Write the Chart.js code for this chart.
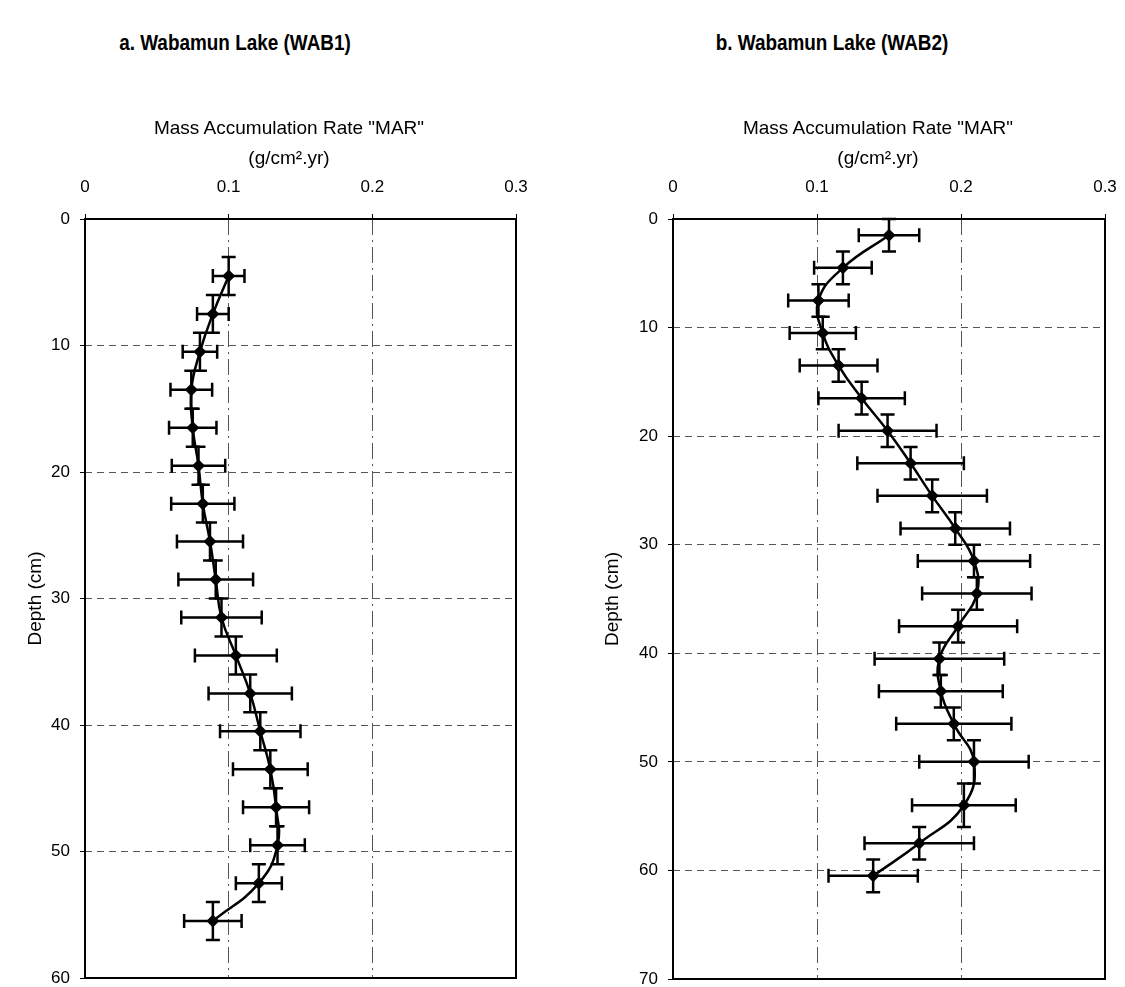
<!DOCTYPE html>
<html>
<head>
<meta charset="utf-8">
<script src="https://cdn.jsdelivr.net/npm/chart.js@4/dist/chart.umd.min.js"></script>
<style>
  body { margin: 0; background: #fff; width: 1125px; height: 987px; position: relative; overflow: hidden;
         font-family: Arial, "Liberation Sans", sans-serif; color: #000; }
  .panel-title { position: absolute; top: 30px; font-weight: bold; font-size: 22px; line-height: 26px; white-space: nowrap;
                 transform: translateX(-50%) scaleX(0.86); }
  .axis-title { position: absolute; top: 113px; font-size: 19px; line-height: 30px; white-space: nowrap;
                text-align: center; transform: translateX(-50%); }
  .chart-box { position: absolute; top: 0; }
</style>
</head>
<body>
<div class="panel-title" style="left:235px">a. Wabamun Lake (WAB1)</div>
<div class="panel-title" style="left:832px">b. Wabamun Lake (WAB2)</div>
<div class="chart-box" style="left:0px"><canvas id="chart-a" width="540" height="987"></canvas></div>
<div class="chart-box" style="left:590px"><canvas id="chart-b" width="535" height="987"></canvas></div>
<div class="axis-title" style="left:289px">Mass Accumulation Rate "MAR"<br>(g/cm².yr)</div>
<div class="axis-title" style="left:878px">Mass Accumulation Rate "MAR"<br>(g/cm².yr)</div>

<script>
// MAR axis ticks (shared)
const marTicks = [0, 0.1, 0.2, 0.3];
const marTickLabels = ['0', '0.1', '0.2', '0.3'];

// a. WAB1
const depthA = [4.5, 7.5, 10.5, 13.5, 16.5, 19.5, 22.5, 25.5, 28.5, 31.5, 34.5, 37.5, 40.5, 43.5, 46.5, 49.5, 52.5, 55.5];
const marA = [0.100, 0.089, 0.080, 0.074, 0.075, 0.079, 0.082, 0.087, 0.091, 0.095, 0.105, 0.115, 0.122, 0.129, 0.133, 0.134, 0.121, 0.089];
const marErrA = [0.011, 0.011, 0.012, 0.0145, 0.0165, 0.0186, 0.022, 0.023, 0.026, 0.028, 0.0285, 0.029, 0.028, 0.026, 0.023, 0.019, 0.016, 0.020];
const depthErrA = [1.5, 1.5, 1.5, 1.5, 1.5, 1.5, 1.5, 1.5, 1.5, 1.5, 1.5, 1.5, 1.5, 1.5, 1.5, 1.5, 1.5, 1.5];
const depthTicksA = [0, 10, 20, 30, 40, 50, 60];

// b. WAB2
const depthB = [1.5, 4.5, 7.5, 10.5, 13.5, 16.5, 19.5, 22.5, 25.5, 28.5, 31.5, 34.5, 37.5, 40.5, 43.5, 46.5, 50, 54, 57.5, 60.5];
const marB = [0.150, 0.118, 0.101, 0.104, 0.115, 0.131, 0.149, 0.165, 0.180, 0.196, 0.209, 0.211, 0.198, 0.185, 0.186, 0.195, 0.209, 0.202, 0.171, 0.139];
const marErrB = [0.021, 0.020, 0.021, 0.023, 0.027, 0.030, 0.034, 0.037, 0.038, 0.038, 0.039, 0.038, 0.041, 0.045, 0.043, 0.040, 0.038, 0.036, 0.038, 0.031];
const depthErrB = [1.5, 1.5, 1.5, 1.5, 1.5, 1.5, 1.5, 1.5, 1.5, 1.5, 1.5, 1.5, 1.5, 1.5, 1.5, 1.5, 2, 2, 1.5, 1.5];
const depthTicksB = [0, 10, 20, 30, 40, 50, 60, 70];

const FONT = 'Arial, "Liberation Sans", sans-serif';

// draws x/y error bars from the data arrays, plus the plot frame
const errorBarPlugin = {
    id: 'errorBars',
    beforeDatasetsDraw(chart, args, opts) {
        const { ctx } = chart;
        const x = chart.scales.x, y = chart.scales.y;
        const cap = 7;
        ctx.save();
        ctx.strokeStyle = '#000';
        ctx.lineWidth = 2.5;
        opts.mar.forEach((v, i) => {
            const px = x.getPixelForValue(v);
            const py = y.getPixelForValue(opts.depth[i]);
            const x0 = x.getPixelForValue(v - opts.marErr[i]);
            const x1 = x.getPixelForValue(v + opts.marErr[i]);
            const y0 = y.getPixelForValue(opts.depth[i] - opts.depthErr[i]);
            const y1 = y.getPixelForValue(opts.depth[i] + opts.depthErr[i]);
            ctx.beginPath();
            ctx.moveTo(x0, py); ctx.lineTo(x1, py);
            ctx.moveTo(x0, py - cap); ctx.lineTo(x0, py + cap);
            ctx.moveTo(x1, py - cap); ctx.lineTo(x1, py + cap);
            ctx.moveTo(px, y0); ctx.lineTo(px, y1);
            ctx.moveTo(px - cap, y0); ctx.lineTo(px + cap, y0);
            ctx.moveTo(px - cap, y1); ctx.lineTo(px + cap, y1);
            ctx.stroke();
        });
        ctx.restore();
    },
    afterDraw(chart) {
        const { ctx, chartArea: a } = chart;
        ctx.save();
        ctx.strokeStyle = '#000';
        ctx.lineWidth = 2;
        ctx.strokeRect(a.left, a.top, a.right - a.left, a.bottom - a.top);
        ctx.restore();
    }
};

function makeChart(id, cfg) {
    const points = cfg.mar.map((v, i) => ({ x: v, y: cfg.depth[i] }));
    const yMax = cfg.depthTicks[cfg.depthTicks.length - 1];
    return new Chart(document.getElementById(id), {
        type: 'scatter',
        data: {
            datasets: [{
                data: points,
                showLine: true,
                tension: 0.45,
                borderColor: '#000',
                borderWidth: 2.5,
                backgroundColor: '#000',
                pointStyle: 'rectRot',
                pointRadius: 6.5,
                pointBorderWidth: 0
            }]
        },
        options: {
            responsive: false,
            animation: false,
            layout: { padding: { left: 0, right: cfg.padRight, top: 0, bottom: cfg.padBottom } },
            plugins: {
                legend: { display: false },
                tooltip: { enabled: false },
                errorBars: { mar: cfg.mar, depth: cfg.depth, marErr: cfg.marErr, depthErr: cfg.depthErr }
            },
            scales: {
                x: {
                    type: 'linear',
                    position: 'top',
                    min: 0,
                    max: 0.3,
                    afterBuildTicks: s => { s.ticks = marTicks.map(v => ({ value: v })); },
                    afterFit: s => { s.height = 219; s.paddingLeft = 0; s.paddingRight = 0; },
                    ticks: {
                        callback: (v, i) => marTickLabels[i],
                        color: '#000',
                        font: { family: FONT, size: 17 },
                        padding: 16,
                        maxRotation: 0
                    },
                    grid: {
                        color: c => (c.tick && (c.tick.value === 0.1 || c.tick.value === 0.2)) ? '#555' : 'rgba(0,0,0,0)',
                        tickColor: '#000',
                        tickLength: 5,
                        lineWidth: 1
                    },
                    border: { display: false, dash: [16, 5, 2, 5] },
                    title: { display: false }
                },
                y: {
                    type: 'linear',
                    reverse: true,
                    min: 0,
                    max: yMax,
                    afterBuildTicks: s => { s.ticks = cfg.depthTicks.map(v => ({ value: v })); },
                    afterFit: s => { s.width = cfg.yAxisWidth; s.paddingTop = 0; s.paddingBottom = 0; },
                    ticks: {
                        callback: (v, i) => String(cfg.depthTicks[i]),
                        color: '#000',
                        font: { family: FONT, size: 17 },
                        padding: 10
                    },
                    grid: {
                        color: c => (c.tick && c.tick.value > 0 && c.tick.value < yMax) ? '#555' : 'rgba(0,0,0,0)',
                        tickColor: '#000',
                        tickLength: 5,
                        lineWidth: 1
                    },
                    border: { display: false, dash: [7, 5] },
                    title: {
                        display: true,
                        text: 'Depth (cm)',
                        color: '#000',
                        font: { family: FONT, size: 19 },
                        padding: { top: cfg.yTitlePad, bottom: 0 }
                    }
                }
            }
        },
        plugins: [errorBarPlugin]
    });
}

makeChart('chart-a', {
    mar: marA, depth: depthA, marErr: marErrA, depthErr: depthErrA, depthTicks: depthTicksA,
    padRight: 24, padBottom: 9, yAxisWidth: 85, yTitlePad: 24
});
makeChart('chart-b', {
    mar: marB, depth: depthB, marErr: marErrB, depthErr: depthErrB, depthTicks: depthTicksB,
    padRight: 20, padBottom: 8, yAxisWidth: 83, yTitlePad: 11
});
</script>
</body>
</html>
